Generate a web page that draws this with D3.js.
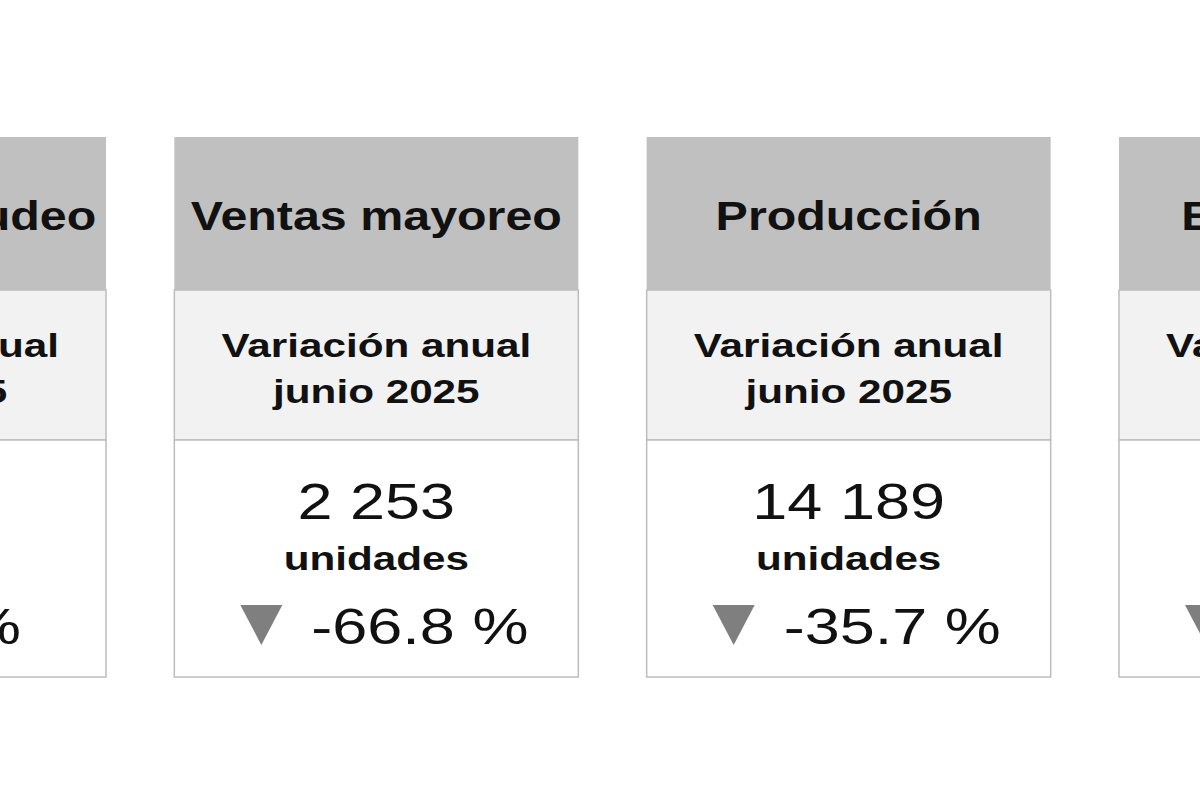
<!DOCTYPE html>
<html><head><meta charset="utf-8">
<script src="https://cdn.jsdelivr.net/npm/d3@7"></script>
<style>body{margin:0;background:#fff}svg{display:block;font-family:"Liberation Sans",Arial,sans-serif}</style>
</head><body>
<svg id="chart" width="1200" height="800"></svg>
<script>
// card data (first and last cards are cut off by the frame)
const titles = ["Ventas menudeo", "Ventas mayoreo", "Producción", "Exportación"];
const units = ["1 470", "2 253", "14 189", "11 204"];
const changes = [-5.9, -66.8, -35.7, -31.5];
const period = ["Variación anual", "junio 2025"];

const svg = d3.select("#chart");
const cardW = 404;
const x = d3.scaleLinear().domain([0, titles.length - 1]).range([-298, 1119]);

const fmt = v => v.toFixed(1) + " %";

const card = svg.selectAll("g.card")
  .data(titles.map((t, i) => ({ title: t, units: units[i], change: changes[i] })))
  .join("g")
  .attr("class", "card")
  .attr("transform", (d, i) => `translate(${x(i)},137)`);

card.append("rect").attr("width", cardW).attr("height", 153).attr("fill", "#c0c0c0");
card.append("rect").attr("y", 153).attr("width", cardW).attr("height", 150)
  .attr("fill", "#f2f2f2").attr("stroke", "#bdbdbd").attr("stroke-width", 1.5);
card.append("rect").attr("y", 303).attr("width", cardW).attr("height", 237)
  .attr("fill", "#fff").attr("stroke", "#bdbdbd").attr("stroke-width", 1.5);

// text drawn a bit wider than the font, like the original
function label(sel, px, py, sx, size, bold, anchor) {
  return sel.append("text")
    .attr("transform", `translate(${px},${py}) scale(${sx},1)`)
    .attr("text-anchor", anchor || "middle")
    .attr("font-size", size)
    .attr("font-weight", bold ? "bold" : "normal")
    .attr("fill", "#111");
}

label(card, cardW / 2, 93, 1.21, 40, true).text(d => d.title);

period.forEach((p, j) => {
  label(card, cardW / 2, 220 + j * 46, 1.28, 33, true).text(p);
});

label(card, cardW / 2, 382, 1.26, 50, false).text(d => d.units);
label(card, cardW / 2, 433, 1.28, 33, true).text("unidades");

card.append("path")
  .attr("d", "M66,468 L108,468 L87,508 Z")
  .attr("fill", "#7f7f7f");
label(card, 137, 507, 1.26, 50, false, "start").text(d => fmt(d.change));
</script>
</body></html>
